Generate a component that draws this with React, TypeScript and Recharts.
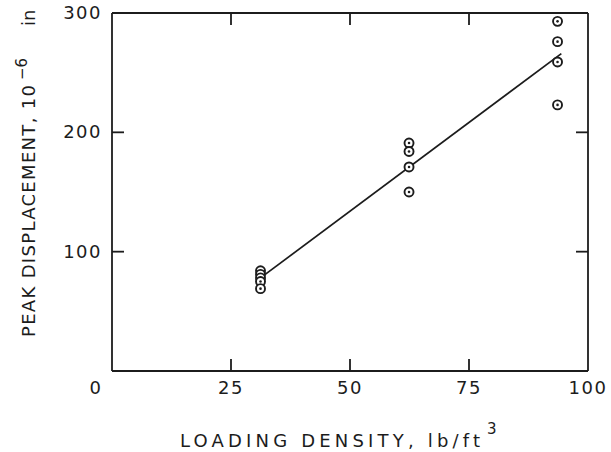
import {
  ComposedChart,
  Line,
  Scatter,
  XAxis,
  YAxis,
} from "recharts";

// measured points, grouped by loading density
const loadingDensity = [
  31.2, 31.2, 31.2, 31.2, 31.2,
  62.4, 62.4, 62.4, 62.4,
  93.6, 93.6, 93.6, 93.6,
];
const peakDisplacement = [
  84, 81, 78, 75, 69,
  191, 184, 171, 150,
  293, 276, 259, 223,
];

// fitted straight line
const fitDensity = [31.2, 94.4];
const fitDisplacement = [78, 266];

const xTicks = [0, 25, 50, 75, 100];
const yTicks = [100, 200, 300];
const innerXTicks = [25, 50, 75];
const innerYTicks = [100, 200];

const INK = "#1c1c1c";
const FONT = "'DejaVu Sans', sans-serif";
const TICK_LEN = 12;

const points = loadingDensity.map((x, i) => ({ x, y: peakDisplacement[i] }));
const fitLine = fitDensity.map((x, i) => ({ x, y: fitDisplacement[i] }));

type TickProps = { x: number; y: number; payload: { value: number } };

const BottomTick = ({ x, y, payload }: TickProps) => {
  const v = payload.value;
  const inner = innerXTicks.includes(v);
  // the origin label sits off the corner
  const tx = v === 0 ? x - 16 : x;
  return (
    <g>
      {inner && <line x1={x} y1={y} x2={x} y2={y - TICK_LEN} stroke={INK} strokeWidth={1.8} />}
      <text x={tx} y={y + 23} textAnchor="middle" fontFamily={FONT} fontSize={18} fill={INK} letterSpacing={1.5}>
        {v}
      </text>
    </g>
  );
};

const TopTick = ({ x, y, payload }: TickProps) =>
  innerXTicks.includes(payload.value) ? (
    <line x1={x} y1={y} x2={x} y2={y + TICK_LEN} stroke={INK} strokeWidth={1.8} />
  ) : (
    <g />
  );

const LeftTick = ({ x, y, payload }: TickProps) => {
  const v = payload.value;
  return (
    <g>
      {innerYTicks.includes(v) && (
        <line x1={x} y1={y} x2={x + TICK_LEN} y2={y} stroke={INK} strokeWidth={1.8} />
      )}
      <text x={x - 10} y={y + 6} textAnchor="end" fontFamily={FONT} fontSize={18} fill={INK} letterSpacing={1.5}>
        {v}
      </text>
    </g>
  );
};

const RightTick = ({ x, y, payload }: TickProps) =>
  innerYTicks.includes(payload.value) ? (
    <line x1={x} y1={y} x2={x - TICK_LEN} y2={y} stroke={INK} strokeWidth={1.8} />
  ) : (
    <g />
  );

const ringDot = (props: Record<string, unknown>) => {
  const { cx, cy } = props as { cx: number; cy: number };
  return (
    <g>
      <circle cx={cx} cy={cy} r={4.5} fill="#fff" stroke={INK} strokeWidth={1.9} />
      <circle cx={cx} cy={cy} r={1.3} fill={INK} />
    </g>
  );
};

export default function App() {
  const axisLine = { stroke: INK, strokeWidth: 1.8 };
  return (
    <div style={{ position: "absolute", left: 0, top: 0, width: 611, height: 452, background: "#fff" }}>
      <ComposedChart
        width={611}
        height={452}
        margin={{ top: 12, right: 22, bottom: 80, left: 111 }}
      >
        <XAxis
          dataKey="x"
          type="number"
          domain={[0, 100]}
          ticks={xTicks}
          interval={0}
          height={1}
          tickSize={0}
          tickMargin={0}
          tickLine={false}
          axisLine={axisLine}
          tick={BottomTick}
          allowDataOverflow
        />
        <XAxis
          xAxisId="top"
          orientation="top"
          dataKey="x"
          type="number"
          domain={[0, 100]}
          ticks={xTicks}
          interval={0}
          height={1}
          tickSize={0}
          tickMargin={0}
          tickLine={false}
          axisLine={axisLine}
          tick={TopTick}
          allowDataOverflow
        />
        <YAxis
          dataKey="y"
          type="number"
          domain={[0, 300]}
          ticks={yTicks}
          interval={0}
          width={1}
          tickSize={0}
          tickMargin={0}
          tickLine={false}
          axisLine={axisLine}
          tick={LeftTick}
          allowDataOverflow
        />
        <YAxis
          yAxisId="right"
          orientation="right"
          dataKey="y"
          type="number"
          domain={[0, 300]}
          ticks={yTicks}
          interval={0}
          width={1}
          tickSize={0}
          tickMargin={0}
          tickLine={false}
          axisLine={axisLine}
          tick={RightTick}
          allowDataOverflow
        />
        <Line
          data={fitLine}
          dataKey="y"
          type="linear"
          stroke={INK}
          strokeWidth={1.7}
          dot={false}
          activeDot={false}
          isAnimationActive={false}
        />
        <Scatter
          data={points}
          dataKey="y"
          shape={ringDot}
          isAnimationActive={false}
        />
      </ComposedChart>
      <svg
        width={611}
        height={452}
        style={{ position: "absolute", left: 0, top: 0, pointerEvents: "none" }}
      >
        <text
          x={180}
          y={447}
          fontFamily={FONT}
          fontSize={18}
          fill={INK}
          textLength={300}
          lengthAdjust="spacing"
        >
          LOADING DENSITY, lb/ft
        </text>
        <text x={487} y={434} fontFamily={FONT} fontSize={15} fill={INK}>
          3
        </text>
        <text
          transform="translate(35,337) rotate(-90)"
          fontFamily={FONT}
          fontSize={18}
          fill={INK}
          textLength={252}
          lengthAdjust="spacing"
        >
          PEAK DISPLACEMENT, 10
        </text>
        <text
          transform="translate(27,80) rotate(-90)"
          fontFamily={FONT}
          fontSize={15}
          fill={INK}
        >
          −6
        </text>
        <text
          transform="translate(35,26) rotate(-90)"
          fontFamily={FONT}
          fontSize={18}
          fill={INK}
        >
          in
        </text>
      </svg>
    </div>
  );
}
